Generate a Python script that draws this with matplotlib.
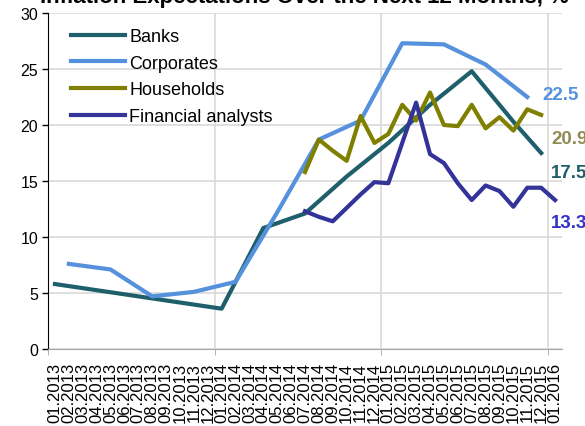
import numpy as np
import matplotlib
matplotlib.use('Agg')
import matplotlib.pyplot as plt

plt.rcParams['font.family'] = ['Liberation Sans', 'DejaVu Sans']

# Months 01.2013 .. 01.2016
months = ['{:02d}.{}'.format(m, y) for y in (2013, 2014, 2015) for m in range(1, 13)] + ['01.2016']

# Survey values, indexed by month position (missing months are left out)
banks_idx = [0, 3, 6, 9, 12, 15, 18, 21, 24, 27, 30, 33, 35]
banks_val = [5.8, 5.25, 4.7, 4.15, 3.6, 10.8, 12.1, 15.4, 18.4, 21.8, 24.8, 20.3, 17.5]

corp_idx = [1, 4, 7, 10, 13, 16, 19, 22, 25, 28, 31, 34]
corp_val = [7.6, 7.1, 4.7, 5.1, 6.0, 12.2, 18.7, 20.4, 27.3, 27.2, 25.4, 22.5]

house_idx = list(range(18, 36))
house_val = [15.8, 18.7, 17.7, 16.8, 20.8, 18.4, 19.2, 21.8, 20.4, 22.9,
             20.0, 19.9, 21.8, 19.7, 20.7, 19.5, 21.4, 20.9]

fa_idx = list(range(18, 37))
fa_val = [12.3, 11.8, 11.4, 12.6, 13.8, 14.9, 14.8, 18.4, 22.0, 17.4,
          16.6, 14.8, 13.3, 14.6, 14.1, 12.7, 14.4, 14.4, 13.3]

c_banks = '#1F5F6B'
c_corp = '#5591DC'
c_house = '#808000'
c_fa = '#333399'

fig = plt.figure(figsize=(5.85, 4.27), dpi=100)
ax = fig.add_axes([48 / 585, 77 / 427, 514 / 585, 336 / 427])

ax.plot(banks_idx, banks_val, color=c_banks, lw=3, label='Banks', zorder=3)
ax.plot(corp_idx, corp_val, color=c_corp, lw=3, label='Corporates', zorder=3)
ax.plot(house_idx, house_val, color=c_house, lw=3, label='Households', zorder=3)
ax.plot(fa_idx, fa_val, color=c_fa, lw=3, label='Financial analysts', zorder=3)

ax.set_xlim(-0.5, len(months) - 0.5)
ax.set_ylim(0, 30)
ax.set_yticks([0, 5, 10, 15, 20, 25, 30])

# grid
ax.grid(axis='y', color='#D9D9D9', lw=1.2)
for b in (11.5, 23.5, 35.5):
    ax.axvline(b, color='#D9D9D9', lw=1.2, zorder=1)
ax.set_axisbelow(True)

ax.set_xticks(range(len(months)))
ax.set_xticklabels(months, rotation=90, fontsize=12, va='top')
ax.tick_params(axis='x', which='major', length=0, pad=9.5)
ax.set_xticks([-0.5, 11.5, 23.5, 35.5], minor=True)
ax.tick_params(axis='x', which='minor', length=4, color='#A6A6A6', direction='out')
ax.tick_params(axis='y', labelsize=11.5, length=4, width=1, pad=3, color='black')

for s in ('top', 'right'):
    ax.spines[s].set_visible(False)
ax.spines['bottom'].set_color('#A6A6A6')
ax.spines['left'].set_color('black')

# end-of-line value labels
lab_kw = dict(fontsize=13.5, fontweight='bold', va='center', clip_on=False)
ax.text(35.1, 22.7, '22.5', color=c_corp, **lab_kw)
ax.text(35.7, 18.8, '20.9', color='#948A54', **lab_kw)
ax.text(35.7, 15.8, '17.5', color=c_banks, **lab_kw)
ax.text(35.7, 11.3, '13.3', color='#3333CC', **lab_kw)

ax.legend(loc='upper left', bbox_to_anchor=(0.0447, 0.955), frameon=False, fontsize=13,
          handlelength=3.0, handletextpad=0.22, labelspacing=0.53,
          borderaxespad=0, borderpad=0)

fig.text(40 / 585, 1 - 3 / 427, 'Inflation Expectations Over the Next 12 Months, %',
         fontsize=16, fontweight='bold', va='baseline', ha='left')

fig.savefig('out.png', dpi=100)
